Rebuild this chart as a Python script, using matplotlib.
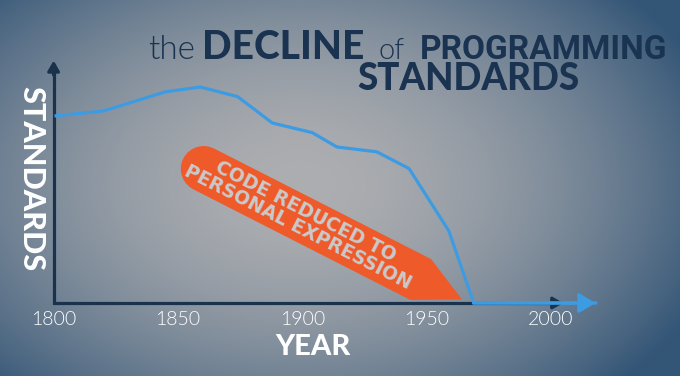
import numpy as np
import matplotlib
matplotlib.use('Agg')
import matplotlib.pyplot as plt
from matplotlib.path import Path

# data
years = [1801, 1820, 1845, 1859, 1874, 1888, 1904, 1914, 1930, 1943, 1959, 1969, 2018]
standards = [78, 80, 88, 90, 86, 75, 71, 65, 63, 56, 30, 0, 0]
tick_years = [1800, 1850, 1900, 1950, 2000]
tick_labels = ['1800', '1850', '1900', '1950', '2000']

BLUE = '#3d9be2'
NAVY = '#1b324c'
TITLE = '#1a3350'
ORANGE = '#ee5a2a'
W, H = 680, 376


def px(x, y):
    # reference pixel -> figure fraction
    return x / W, 1 - y / H


def banner(x0, y0, width, height, mutation_size):
    # pill on the left, pointed tip on the right
    p = 0.24 * mutation_size
    x0 -= p * 1.6
    y0 -= p
    width += p * 3.2
    height += 2 * p
    x1, y1 = x0 + width, y0 + height
    r = height / 2
    verts = [(x0 + r, y0), (x1, y0), (x1 + 1.0 * height, y0 + 0.52 * height), (x1, y1), (x0 + r, y1)]
    for a in np.linspace(np.pi / 2, 3 * np.pi / 2, 16)[1:]:
        verts.append((x0 + r + r * np.cos(a), y0 + r + r * np.sin(a)))
    verts.append(verts[0])
    codes = [Path.MOVETO] + [Path.LINETO] * (len(verts) - 2) + [Path.CLOSEPOLY]
    return Path(verts, codes)


fig = plt.figure(figsize=(6.8, 3.76), dpi=100)
ax = fig.add_axes([0, 0, 1, 1])
x_lo, x_hi = 1778.44, 2051.97
y_lo, y_hi = -30.42, 126.25
ax.set_xlim(x_lo, x_hi)
ax.set_ylim(y_lo, y_hi)
ax.axis('off')

# vignette background
gx, gy = np.meshgrid(np.linspace(0, W, 340), np.linspace(0, H, 188))
r = np.sqrt(((gx - 300) / 440) ** 2 + ((gy - 185) / 290) ** 2)
t = np.clip(r, 0, 1) ** 1.8
c0 = np.array([0xad, 0xae, 0xb1]) / 255
c1 = np.array([0x33, 0x55, 0x76]) / 255
img = c0[None, None, :] * (1 - t[..., None]) + c1[None, None, :] * t[..., None]
ax.imshow(img, extent=[x_lo, x_hi, y_lo, y_hi], aspect='auto', zorder=0, origin='upper')

# axes drawn as arrows
ax.plot([1800, 1800, 2003], [99, 0, 0], color=NAVY, lw=2.3, solid_joinstyle='miter', zorder=2)
head = dict(arrowstyle='-|>,head_length=0.6,head_width=0.35', color=NAVY, lw=2.3,
            shrinkA=0, shrinkB=0, mutation_scale=10)
ax.annotate('', xy=(1800, 101), xytext=(1800, 95), arrowprops=head, zorder=2)
ax.annotate('', xy=(2005, 0), xytext=(2000, 0), arrowprops=head, zorder=2)

# the series
ax.plot(years, standards, color=BLUE, lw=2.3, solid_joinstyle='miter', zorder=4)
ax.annotate('', xy=(years[-1], standards[-1]), xytext=(years[-2], standards[-2]),
            arrowprops=dict(arrowstyle='-|>,head_length=0.7,head_width=0.42', color=BLUE,
                            lw=2.3, shrinkA=0, shrinkB=0, mutation_scale=14), zorder=4)

for yr, lab in zip(tick_years, tick_labels):
    ax.text(yr, -7, lab, ha='center', va='center', color='white', fontsize=14,
            family=['Lato', 'DejaVu Sans'], fontweight=300, zorder=5)

heavy = ['Lato', 'DejaVu Sans']
fig.text(*px(313, 347), 'YEAR', ha='center', va='center', color='white', fontsize=21,
         family=heavy, fontweight='black')
fig.text(*px(31, 179), 'STANDARDS', ha='center', va='center', rotation=-90, color='white',
         fontsize=22, family=heavy, fontweight='black')

# title, each piece sized to its width in the reference (capped in height)
pieces = [
    ('the', 148, 59, 47, 300, heavy, 28),
    ('DECLINE', 202, 59, 173, 'black', heavy, 28),
    ('of', 379, 59, 26, 300, heavy, 28),
    ('PROGRAMMING', 420, 59, 248, 'bold', ['Roboto', 'DejaVu Sans'], 28),
    ('STANDARDS', 357, 90, 243, 'black', heavy, 26.5),
]
fig.canvas.draw()
renderer = fig.canvas.get_renderer()
for txt, x, y, w, wt, fam, cap in pieces:
    tt = fig.text(*px(x, y), txt, ha='left', va='baseline', color=TITLE, fontsize=28,
                  family=fam, fontweight=wt)
    ext = tt.get_window_extent(renderer)
    tt.set_fontsize(min(cap, 28 * w / ext.width))

# orange callout
fig.text(*px(302, 219), 'CODE REDUCED TO\nPERSONAL EXPRESSION', ha='center', va='center',
         multialignment='center', rotation=-27, rotation_mode='anchor', color='#c9cacc',
         fontsize=13.5, fontweight='bold', family=['DejaVu Sans'], linespacing=0.92,
         bbox=dict(boxstyle=banner, fc=ORANGE, ec='none'), zorder=3)

fig.savefig('out.png', dpi=100)
